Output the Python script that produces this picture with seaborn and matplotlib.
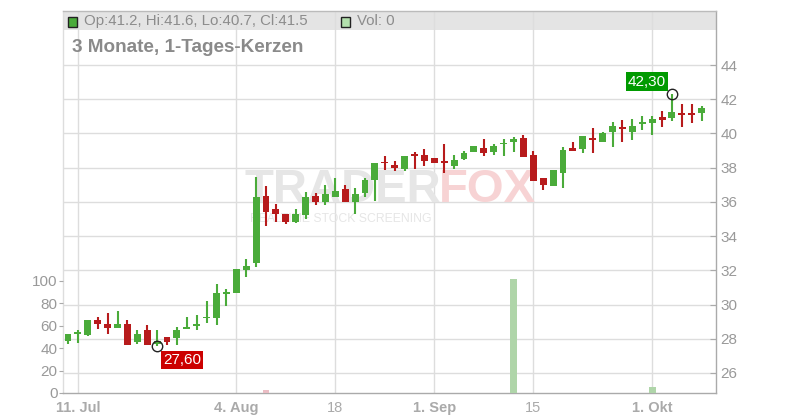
import numpy as np
import pandas as pd
import matplotlib
matplotlib.use("Agg")
import matplotlib.pyplot as plt
from matplotlib.patches import Rectangle
import seaborn as sns

# daily candles, 3 months
opens = [27.85, 28.30, 28.20, 29.08, 28.87, 28.65, 28.87, 27.83, 28.50, 27.70,
         28.08, 28.05, 28.60, 28.75, 29.20, 29.24, 30.63, 30.65, 32.03, 32.44,
         36.36, 35.56, 35.29, 34.84, 35.23, 36.34, 36.00, 36.30, 36.75, 36.00,
         36.53, 37.27, 38.32, 38.15, 37.94, 38.75, 38.76, 38.54, 38.32, 38.11,
         38.52, 38.93, 39.13, 38.93, 39.36, 39.52, 39.71, 38.74, 37.37, 36.94,
         37.70, 39.17, 39.10, 39.75, 39.52, 40.10, 40.37, 40.10, 40.53, 40.63,
         40.94, 40.92, 41.15, 41.15, 41.20]
highs = [28.25, 28.50, 29.10, 29.25, 29.50, 29.65, 29.10, 28.50, 28.80, 28.50,
         28.10, 28.70, 29.25, 29.40, 30.20, 31.20, 30.90, 32.05, 32.65, 37.47,
         36.90, 35.87, 35.30, 35.56, 36.60, 36.50, 36.97, 37.40, 37.00, 36.80,
         37.40, 38.25, 38.70, 38.40, 38.68, 38.90, 39.10, 38.54, 39.38, 38.74,
         38.95, 39.26, 39.70, 39.40, 39.70, 39.80, 39.90, 38.99, 37.40, 37.86,
         39.20, 39.50, 39.85, 40.30, 40.10, 40.65, 40.80, 40.85, 41.00, 41.00,
         41.30, 42.30, 41.70, 41.70, 41.60]
lows = [27.70, 27.75, 28.15, 28.60, 28.30, 28.65, 27.63, 27.70, 27.63, 27.60,
        27.63, 27.65, 28.60, 28.50, 28.93, 28.80, 29.90, 30.65, 31.62, 32.20,
        34.60, 34.84, 34.70, 34.76, 35.00, 35.80, 35.80, 36.30, 36.00, 35.30,
        36.30, 36.05, 37.86, 37.80, 37.80, 37.90, 38.10, 38.25, 37.70, 37.92,
        38.45, 38.93, 38.70, 38.75, 38.70, 38.90, 38.64, 37.24, 36.70, 36.94,
        36.80, 38.99, 38.85, 38.87, 39.52, 39.20, 39.50, 39.60, 40.20, 39.90,
        40.40, 40.70, 40.40, 40.60, 40.70]
closes = [28.25, 28.33, 29.08, 28.85, 28.65, 28.87, 27.63, 28.25, 27.63, 27.88,
          27.83, 28.53, 28.63, 28.85, 29.24, 30.65, 30.66, 32.05, 32.25, 36.30,
          35.42, 35.27, 34.84, 35.29, 36.26, 36.00, 36.46, 36.63, 36.00, 36.46,
          37.27, 38.25, 38.25, 38.00, 38.68, 38.70, 38.40, 38.29, 38.28, 38.44,
          38.84, 39.26, 38.84, 39.26, 39.40, 39.67, 38.64, 37.24, 36.98, 37.86,
          39.03, 38.99, 39.85, 39.61, 40.00, 40.43, 40.24, 40.43, 40.68, 40.84,
          40.78, 41.23, 41.10, 41.10, 41.50]
volumes = [0, 0, 0, 0, 0, 0, 0, 0, 0, 0,
           0, 0, 0, 0, 0, 0, 0, 0, 0, 0,
           3, 0, 0, 0, 0, 0, 0, 0, 0, 0,
           0, 0, 0, 0, 0, 0, 0, 0, 0, 0,
           0, 0, 0, 0, 0, 101, 0, 0, 0, 0,
           0, 0, 0, 0, 0, 0, 0, 0, 0, 5,
           0, 0, 0, 0, 0]

# date ticks (candle index) and labels
tick_pos = [1, 17, 27, 37, 47, 59]
tick_labels = ["11. Jul", "4. Aug", "18", "1. Sep", "15", "1. Okt"]
tick_bold = [True, True, False, True, False, True]

price_ticks = [26, 28, 30, 32, 34, 36, 38, 40, 42, 44]
vol_ticks = [0, 20, 40, 60, 80, 100]

df = pd.DataFrame({"i": np.arange(len(opens)), "o": opens, "h": highs,
                   "l": lows, "c": closes, "v": volumes})
df["dir"] = np.where(df["c"] >= df["o"], "up", "down")

GREEN = "#4aab3a"
RED = "#b71b1c"

sns.set_style("white")
plt.rcParams['font.family'] = ['Liberation Sans', 'DejaVu Sans']

fig = plt.figure(figsize=(8, 4.2), dpi=100)
ax = fig.add_axes([63 / 800, 27 / 420, 653 / 800, 382 / 420])
xlim = (-0.505, 65.45)
ax.set_xlim(*xlim)
ax.set_ylim(24.831, 47.156)

# grey header band at the top
ax.axhspan(46.045, 47.156, color="#e4e4e4", lw=0, zorder=0)

# watermark
ax.text(441 / 800, 1 - 190 / 420, "TRADER", transform=fig.transFigure, ha="right",
        va="center", fontsize=34, fontweight="bold", color="#e6e6e6", zorder=1)
ax.text(439 / 800, 1 - 190 / 420, "FOX", transform=fig.transFigure, ha="left",
        va="center", fontsize=34, fontweight="bold", color="#f7d3d4", zorder=1)
ax.text(250 / 800, 1 - 219 / 420, "REALTIME STOCK SCREENING", transform=fig.transFigure,
        ha="left", va="center", fontsize=8.8, color="#e6e6e6", zorder=1)

# candles
cols = [GREEN if d == "up" else RED for d in df["dir"]]
ax.vlines(df["i"], df["l"], df["h"], colors=cols, lw=1.5, zorder=3)
body_h = np.maximum((df["c"] - df["o"]).abs(), 0.1)
body_b = np.minimum(df["o"], df["c"])
ax.bar(df["i"], body_h, bottom=body_b, width=0.7, color=cols, lw=0, zorder=4)

# min / max markers
ax.plot([61], [42.30], "o", mfc="none", mec="#222222", ms=7.5, mew=1, zorder=6)
ax.plot([9], [27.60], "o", mfc="none", mec="#222222", ms=7.5, mew=1, zorder=6)
ax.annotate("42,30", xy=(61, 42.30), xytext=(-25, 12.5), textcoords="offset pixels",
            ha="center", va="center", color="white", fontsize=11,
            bbox=dict(boxstyle="square,pad=0.15", fc="#009a00", ec="none"), zorder=7)
ax.annotate("27,60", xy=(9, 27.60), xytext=(25, -14.5), textcoords="offset pixels",
            ha="center", va="center", color="white", fontsize=11,
            bbox=dict(boxstyle="square,pad=0.15", fc="#cc0000", ec="none"), zorder=7)

# volume on a twin axis
axv = ax.twinx()
sns.barplot(data=df, x="i", y="v", hue="dir", palette={"up": "#a9dca2", "down": "#f3b5bf"},
            native_scale=True, width=0.7, dodge=False, legend=False, linewidth=0, ax=axv)
axv.set_xlim(*xlim)
axv.set_ylim(0, 339.56)
axv.set_xlabel("")
axv.set_ylabel("")
axv.yaxis.tick_left()
axv.set_yticks(vol_ticks)
axv.set_yticklabels([str(v) for v in vol_ticks])
axv.tick_params(axis="y", direction="out", length=3, color="#aaaaaa",
                labelcolor="#999999", labelsize=11, pad=1)
for s in axv.spines.values():
    s.set_visible(False)

# price axis on the right
ax.yaxis.tick_right()
ax.set_yticks(price_ticks)
ax.set_yticklabels([str(p) for p in price_ticks])
ax.tick_params(axis="y", direction="in", length=4, color="#aaaaaa",
               labelcolor="#999999", labelsize=11, pad=3, left=False, right=True)
ax.set_xticks(tick_pos)
ax.set_xticklabels(tick_labels)
ax.tick_params(axis="x", direction="out", length=3, color="#aaaaaa",
               labelcolor="#aaaaaa", labelsize=10.5, pad=3)
for lbl, b in zip(ax.get_xticklabels(), tick_bold):
    lbl.set_fontweight("bold" if b else "normal")
ax.grid(True, color="#dddddd", lw=1)
ax.set_axisbelow(True)
ax.spines["top"].set_color("#bbbbbb")
ax.spines["right"].set_color("#aaaaaa")
ax.spines["bottom"].set_color("#aaaaaa")
ax.spines["left"].set_color("#dddddd")
for s in ax.spines.values():
    s.set_linewidth(1)

# header texts
fig.add_artist(Rectangle((68 / 800, 1 - 27 / 420), 9 / 800, 10 / 420, transform=fig.transFigure,
                         fc="#4aab3a", ec="#222222", lw=1))
fig.text(84 / 800, 1 - 21 / 420, "Op:41.2, Hi:41.6, Lo:40.7, Cl:41.5", va="center",
         color="#8c8c8c", fontsize=10.8)
fig.add_artist(Rectangle((341 / 800, 1 - 27 / 420), 9 / 800, 10 / 420, transform=fig.transFigure,
                         fc="#b3e0ad", ec="#222222", lw=1))
fig.text(357 / 800, 1 - 21 / 420, "Vol: 0", va="center", color="#8c8c8c", fontsize=10.8)
fig.text(72 / 800, 1 - 48 / 420, "3 Monate, 1-Tages-Kerzen", va="center",
         color="#8a8a8a", fontsize=13.6, fontweight="bold")

fig.savefig("out.png", dpi=100)
